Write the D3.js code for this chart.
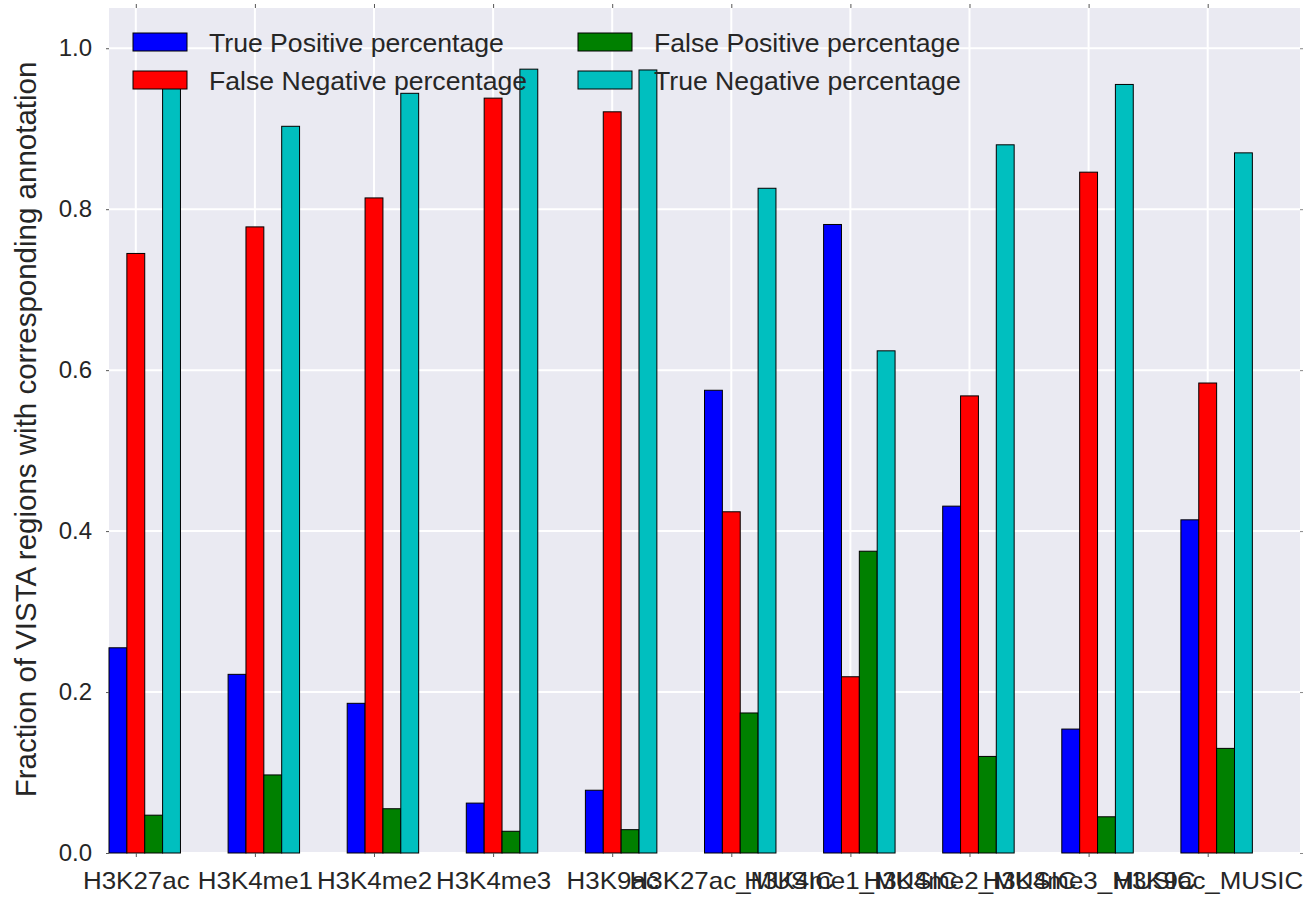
<!DOCTYPE html>
<html>
<head>
<meta charset="utf-8">
<script src="https://cdn.jsdelivr.net/npm/d3@7"></script>
<style>
  html, body { margin: 0; padding: 0; background: #ffffff; }
  svg { display: block; }
  text { font-family: "Liberation Sans", Arial, sans-serif; fill: #262626; }
</style>
</head>
<body>
<svg id="chart" width="1309" height="897"></svg>
<script>
const categories = ["H3K27ac", "H3K4me1", "H3K4me2", "H3K4me3", "H3K9ac",
  "H3K27ac_MUSIC", "H3K4me1_MUSIC", "H3K4me2_MUSIC", "H3K4me3_MUSIC", "H3K9ac_MUSIC"];
const truePositive  = [0.255, 0.222, 0.186, 0.062, 0.078, 0.575, 0.781, 0.431, 0.154, 0.414];
const falseNegative = [0.745, 0.778, 0.814, 0.938, 0.921, 0.424, 0.219, 0.568, 0.846, 0.584];
const falsePositive = [0.047, 0.097, 0.055, 0.027, 0.029, 0.174, 0.375, 0.120, 0.045, 0.130];
const trueNegative  = [0.953, 0.903, 0.944, 0.974, 0.973, 0.826, 0.624, 0.880, 0.955, 0.870];
const seriesNames = ["True Positive percentage", "False Negative percentage",
  "False Positive percentage", "True Negative percentage"];
const yTicks = [0.0, 0.2, 0.4, 0.6, 0.8, 1.0];
const yLabel = "Fraction of VISTA regions with corresponding annotation";

(function () {
const seriesValues = [truePositive, falseNegative, falsePositive, trueNegative];
const colors = ["#0000ff", "#ff0000", "#008000", "#00bfbf"];
const barWidth = 0.15;

const svg = d3.select("#chart");
const mLeft = 109, mRight = 1300, mTop = 8, mBottom = 853;

const x = d3.scaleLinear().domain([0, 10]).range([mLeft, mRight]);
const y = d3.scaleLinear().domain([0, 1.05]).range([mBottom, mTop]);

// background
svg.append("rect").attr("x", mLeft).attr("y", mTop)
  .attr("width", mRight - mLeft).attr("height", mBottom - mTop).attr("fill", "#eaeaf2");

const tickPos = categories.map((c, i) => i + barWidth * 1.5);

// grid
const grid = svg.append("g");
grid.selectAll("line.h").data(yTicks).join("line")
  .attr("x1", mLeft).attr("x2", mRight)
  .attr("y1", d => y(d)).attr("y2", d => y(d))
  .attr("stroke", "#ffffff").attr("stroke-width", 2);
grid.selectAll("line.v").data(tickPos).join("line")
  .attr("y1", mTop).attr("y2", mBottom)
  .attr("x1", d => x(d)).attr("x2", d => x(d))
  .attr("stroke", "#ffffff").attr("stroke-width", 2);

// bars
seriesValues.forEach((vals, s) => {
  svg.append("g").selectAll("rect").data(vals).join("rect")
    .attr("x", (d, i) => x(i + s * barWidth))
    .attr("width", x(barWidth) - x(0))
    .attr("y", d => y(d))
    .attr("height", d => y(0) - y(d))
    .attr("fill", colors[s])
    .attr("stroke", "#000000")
    .attr("stroke-width", 1);
});

// axes
const xAxisB = d3.axisBottom(x).tickValues(tickPos).tickSize(4).tickFormat((d, i) => categories[i]);
const gxb = svg.append("g").attr("transform", `translate(0,${mBottom})`).call(xAxisB);
gxb.select(".domain").remove();
gxb.selectAll("line").attr("stroke", "#555");
gxb.selectAll("text").attr("font-size", 24).attr("dy", null).attr("y", 0)
  .attr("transform", "translate(0,36) scale(1.08,1)");

const xAxisT = d3.axisTop(x).tickValues(tickPos).tickSize(4).tickFormat("");
const gxt = svg.append("g").attr("transform", `translate(0,${mTop})`).call(xAxisT);
gxt.select(".domain").remove();
gxt.selectAll("line").attr("stroke", "#555");

const yAxisL = d3.axisLeft(y).tickValues(yTicks).tickSize(3).tickFormat(d3.format(".1f"));
const gyl = svg.append("g").attr("transform", `translate(${mLeft},0)`).call(yAxisL);
gyl.select(".domain").remove();
gyl.selectAll("line").attr("stroke", "#555");
gyl.selectAll("text").attr("font-size", 24).attr("x", -17);

const yAxisR = d3.axisRight(y).tickValues(yTicks).tickSize(3).tickFormat("");
const gyr = svg.append("g").attr("transform", `translate(${mRight},0)`).call(yAxisR);
gyr.select(".domain").remove();
gyr.selectAll("line").attr("stroke", "#888");

svg.selectAll(".tick text").attr("font-family", "Liberation Sans, Arial, sans-serif").attr("fill", "#262626");

// y label
svg.append("text")
  .attr("transform", `translate(36,${(mTop + mBottom) / 2 - 1}) rotate(-90)`)
  .attr("text-anchor", "middle")
  .attr("font-size", 29.5)
  .text(yLabel);

// legend
const legendPos = [
  {px: 133, py: 33}, {px: 133, py: 71}, {px: 578, py: 33}, {px: 578, py: 71}
];
const leg = svg.append("g");
seriesNames.forEach((name, s) => {
  const p = legendPos[s];
  leg.append("rect").attr("x", p.px).attr("y", p.py).attr("width", 54).attr("height", 18)
    .attr("fill", colors[s]).attr("stroke", "#000").attr("stroke-width", 1);
  leg.append("text")
    .attr("transform", `translate(${p.px + 76},${p.py + 18.5}) scale(1.065,1)`)
    .attr("font-size", 25).text(name);
});
})();
</script>
</body>
</html>
